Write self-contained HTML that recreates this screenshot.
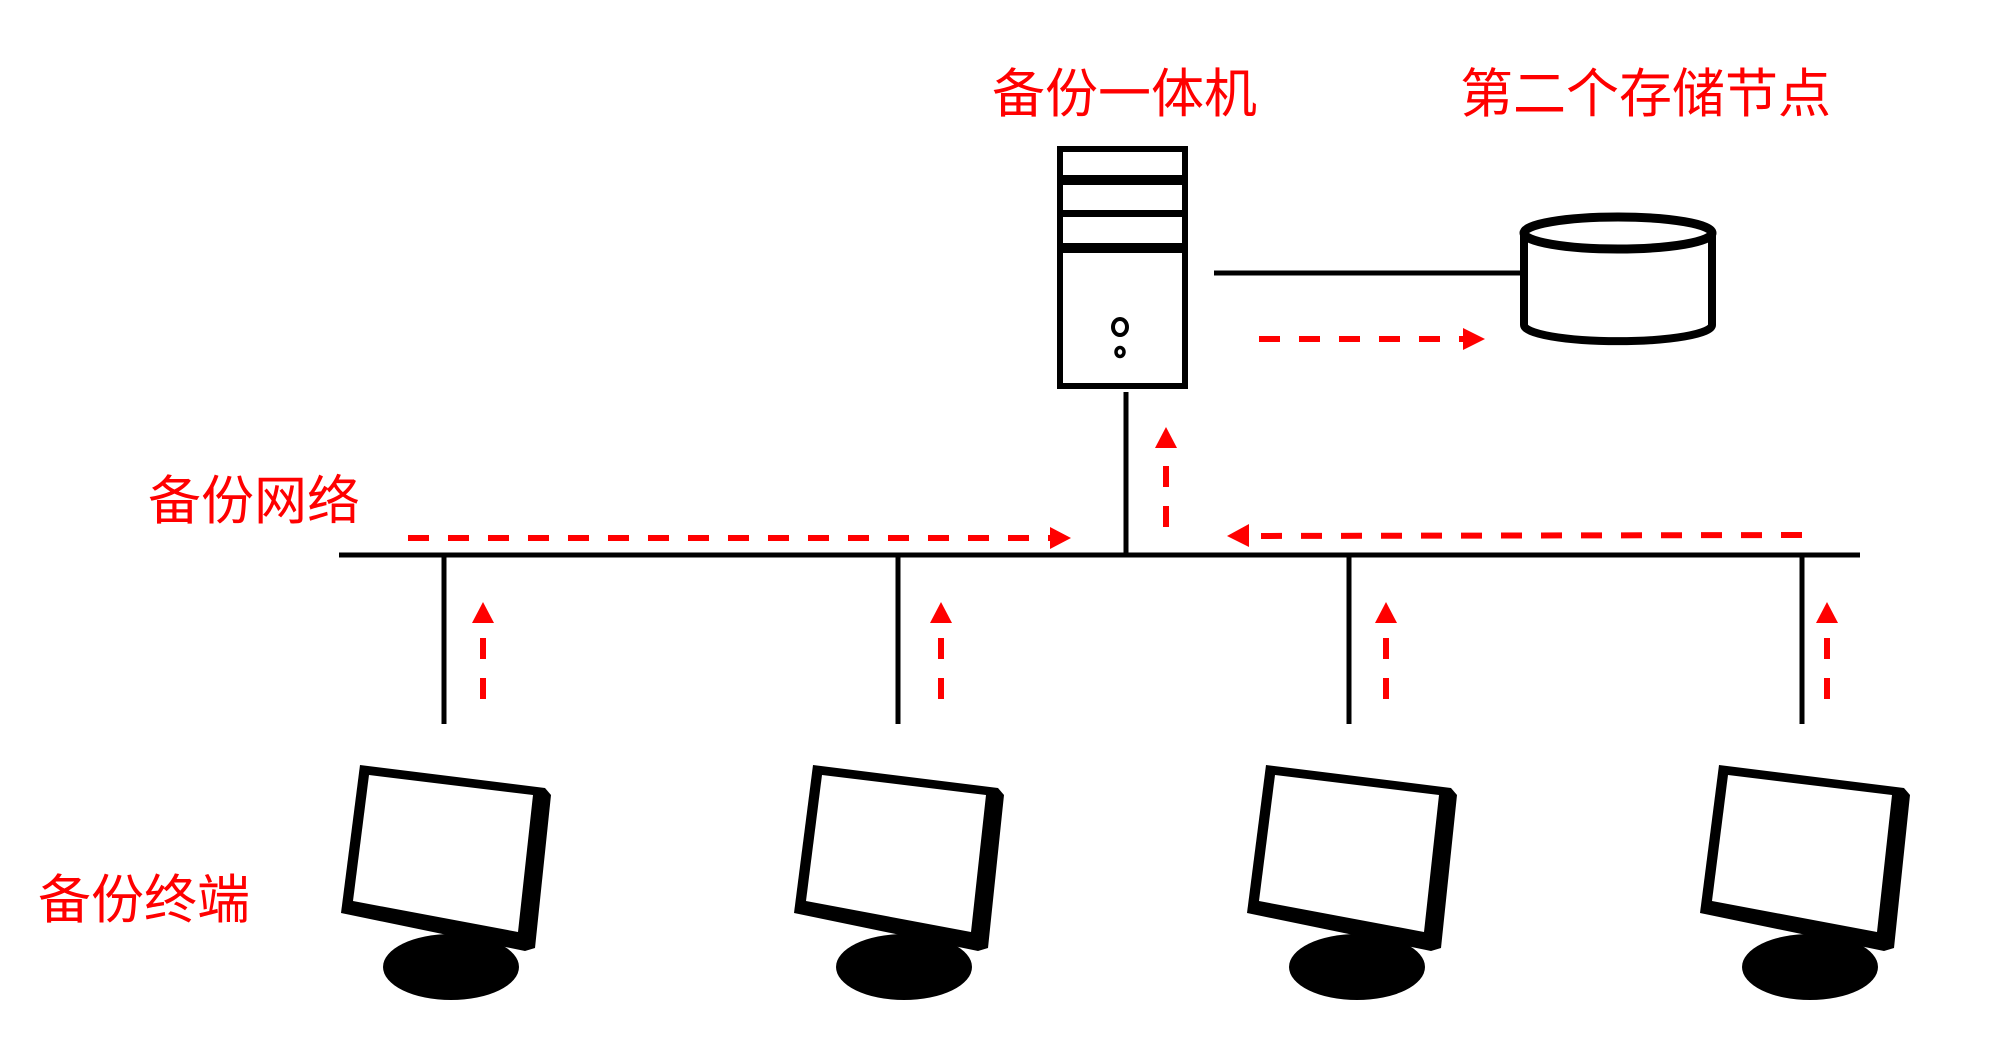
<!DOCTYPE html>
<html><head><meta charset="utf-8"><style>
html,body{margin:0;padding:0;background:#fff;width:2000px;height:1056px;overflow:hidden}
.t{position:absolute;color:#f00;font-family:"Liberation Sans","Noto Sans CJK SC",sans-serif;font-size:53px;line-height:53px;white-space:nowrap;font-weight:400}
</style></head><body>
<div class="t" style="left:992px;top:68px">备份一体机</div>
<div class="t" style="left:1460px;top:68px">第二个存储节点</div>
<div class="t" style="left:148px;top:475px">备份网络</div>
<div class="t" style="left:38px;top:874px">备份终端</div>
<svg width="2000" height="1056" style="position:absolute;left:0;top:0">
<defs>
<g id="mon">
<polygon points="360,765 545,788 551,795 535,948 525,951 341,913" fill="#000"/>
<polygon points="369,775 533,795 518,932 353,901" fill="#fff"/>
<ellipse cx="451" cy="967" rx="68" ry="33" fill="#000"/>
</g>
</defs>
<rect x="1060" y="149" width="125" height="237" fill="#fff" stroke="#000" stroke-width="6"/>
<rect x="1060" y="175" width="125" height="10" fill="#000"/>
<rect x="1060" y="210" width="125" height="7" fill="#000"/>
<rect x="1060" y="243" width="125" height="10" fill="#000"/>
<ellipse cx="1120" cy="327" rx="7" ry="8" fill="none" stroke="#000" stroke-width="4"/>
<ellipse cx="1120" cy="352" rx="4" ry="4.5" fill="none" stroke="#000" stroke-width="3.5"/>
<line x1="1214" y1="273" x2="1522" y2="273" stroke="#000" stroke-width="5"/>
<path d="M1524,233 L1524,325 A93,16 0 0 0 1712,325 L1712,233" fill="#fff" stroke="#000" stroke-width="8"/>
<ellipse cx="1618" cy="233" rx="94" ry="16" fill="#fff" stroke="#000" stroke-width="9"/>
<line x1="339" y1="555" x2="1860" y2="555" stroke="#000" stroke-width="5"/>
<line x1="1126" y1="392" x2="1126" y2="555" stroke="#000" stroke-width="5"/>
<g stroke="#000" stroke-width="5">
<line x1="444" y1="555" x2="444" y2="724"/>
<line x1="898" y1="555" x2="898" y2="724"/>
<line x1="1349" y1="555" x2="1349" y2="724"/>
<line x1="1802" y1="555" x2="1802" y2="724"/>
</g>
<g stroke="#f00" stroke-width="6" stroke-dasharray="21,19" fill="none">
<line x1="1259" y1="339" x2="1466" y2="339"/>
<line x1="408" y1="538" x2="1052" y2="538"/>
<line x1="1802" y1="535" x2="1247" y2="536"/>
<line x1="1166" y1="527" x2="1166" y2="448"/>
<line x1="483" y1="699" x2="483" y2="622"/>
<line x1="941" y1="699" x2="941" y2="622"/>
<line x1="1386" y1="699" x2="1386" y2="622"/>
<line x1="1827" y1="699" x2="1827" y2="622"/>
</g>
<g fill="#f00">
<polygon points="1463,328 1485,339 1463,350"/>
<polygon points="1050,527 1071,538 1050,549"/>
<polygon points="1249,524 1227,536 1249,547"/>
<polygon points="1166,427 1155,448 1177,448"/>
<polygon points="483,602 472,623 494,623"/>
<polygon points="941,602 930,623 952,623"/>
<polygon points="1386,602 1375,623 1397,623"/>
<polygon points="1827,602 1816,623 1838,623"/>
</g>
<use href="#mon"/>
<use href="#mon" x="453"/>
<use href="#mon" x="906"/>
<use href="#mon" x="1359"/>
</svg>
</body></html>
